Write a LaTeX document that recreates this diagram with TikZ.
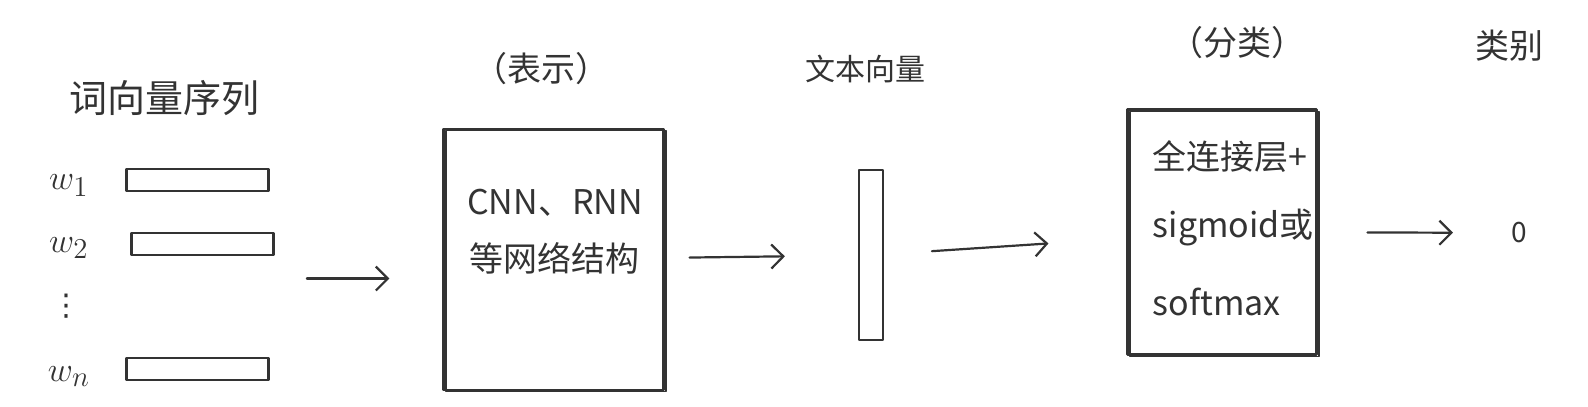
\documentclass[tikz,border=0pt]{standalone}
\usepackage{fontspec}
\setmainfont{Noto Sans CJK SC}
\newfontfamily\symfont{DejaVu Sans}
\usetikzlibrary{arrows.meta}
\definecolor{ink}{RGB}{51,51,51}
\tikzset{
  pen/.style={ink, line width=1.1pt, line cap=round, line join=round},
  wordbar/.style={pen, draw, minimum width=71pt, minimum height=11pt, inner sep=0pt},
  netbox/.style={pen, draw, inner sep=0pt,
    preaction={draw, ink, line width=0.7pt, transform canvas={shift={(1.3pt,-1pt)}}}},
  flow/.style={pen, -{Straight Barb[length=6pt,width=12pt]}},
  hand/.style={ink, font=\fontsize{17}{20}\selectfont, inner sep=1pt},
}
\begin{document}
\begin{tikzpicture}[x=0.5064pt, y=-0.5064pt]
    \useasboundingbox (0,0) rectangle (1568,401);
    % word vectors
    \node[hand, font=\fontsize{19}{22}\selectfont] (seqlabel) at (162,97) {词向量序列};
    \node[wordbar] (w1bar) at (195,178) {};
    \node[wordbar] (w2bar) at (200,241) {};
    \node[wordbar] (wnbar) at (195,364) {};
    \node[hand, font=\fontsize{19}{22}\selectfont] (w1) at (68,183) {$w_1$};
    \node[hand, font=\fontsize{19}{22}\selectfont] (w2) at (68,245) {$w_2$};
    \node[hand, font=\symfont\fontsize{15}{15}\selectfont, inner sep=0pt] (wdots) at (66,302) {⋮};
    \node[hand, font=\fontsize{19}{22}\selectfont] (wn) at (68,372) {$w_n$};
    \coordinate (seqout) at (303,275);
    % representation
    \node[netbox, minimum width=110pt, minimum height=130.5pt] (repbox) at (546.5,256) {};
    \node[hand] (replabel) at (535,68) {（表示）};
    \node[hand] (reptext1) at (548,200) {CNN、RNN};
    \node[hand] (reptext2) at (548,255) {等网络结构};
    % text vector
    \node[pen, draw, minimum width=12pt, minimum height=85pt, inner sep=0pt] (textvec) at (860,252) {};
    \node[hand, font=\fontsize{15}{18}\selectfont] (veclabel) at (855,68) {文本向量};
    % classification
    \node[netbox, minimum width=94.5pt, minimum height=122.5pt] (clsbox) at (1206.5,229) {};
    \node[hand] (clslabel) at (1222,42) {（分类）};
    \node[hand, anchor=west] (clstext1) at (1136,155) {全连接层+};
    \node[hand, anchor=west] (clstext2) at (1136,225) {sigmoid或};
    \node[hand, anchor=west] (clstext3) at (1136,298) {softmax};
    % output
    \node[hand, font=\fontsize{14}{16}\selectfont] (outval) at (1500,230) {0};
    \node[hand] (outlabel) at (1490,45) {类别};
    % arrows
    \draw[flow, shorten >=26.5pt] (seqout) -- (seqout -| repbox.west);
    \draw[flow, shorten <=12.5pt, shorten >=36.5pt] (repbox) -- (textvec);
    \draw[flow, shorten <=24pt, shorten >=39pt] (textvec) -- (clsbox);
    \draw[flow, shorten <=25pt, shorten >=28pt] (clsbox) -- (outval);
\end{tikzpicture}
\end{document}
